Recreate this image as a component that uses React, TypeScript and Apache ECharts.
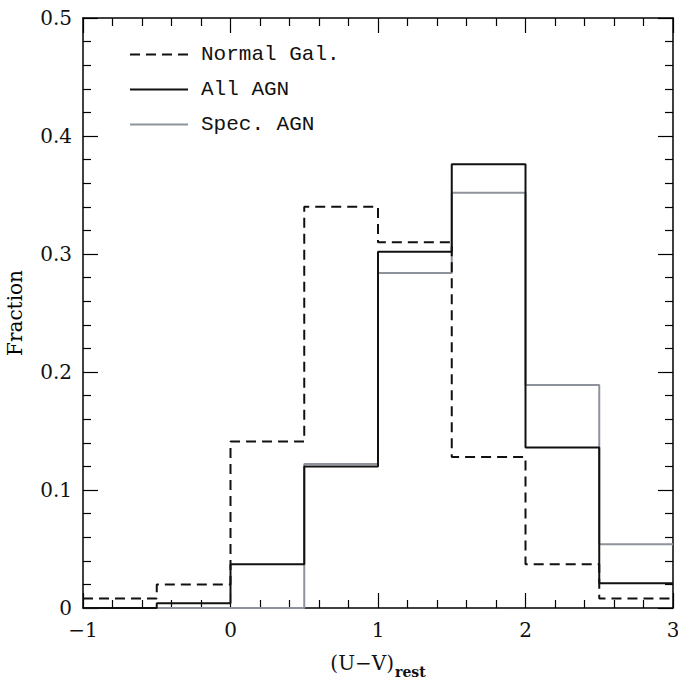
import React, { useEffect, useRef } from "react";
import * as echarts from "echarts";

const binEdges = [-1, -0.5, 0, 0.5, 1, 1.5, 2, 2.5, 3];
const normalGal = [0.008, 0.02, 0.141, 0.34, 0.31, 0.128, 0.037, 0.008];
const allAGN = [0.0, 0.004, 0.037, 0.12, 0.302, 0.376, 0.136, 0.021];
const specAGN = [0.0, 0.0, 0.0, 0.122, 0.284, 0.352, 0.189, 0.054];
const seriesNames = ["Normal Gal.", "All AGN", "Spec. AGN"];

function stepData(vals: number[]) {
  const pts: [number, number][] = vals.map((v, i) => [binEdges[i], v]);
  pts.push([binEdges[binEdges.length - 1], vals[vals.length - 1]]);
  return pts;
}

const SERIF = "'DejaVu Serif', serif";
const MONO = "'Liberation Mono', monospace";

export default function App() {
  const ref = useRef<HTMLDivElement>(null);
  useEffect(() => {
    document.body.style.margin = "0";
    const chart = echarts.init(ref.current!, undefined, { renderer: "svg" });
    const axisCommon = {
      axisLine: { show: true, onZero: false, lineStyle: { color: "#000", width: 1.5 } },
      axisTick: { show: true, inside: true, length: 15, lineStyle: { color: "#000", width: 1.2 } },
      minorTick: { show: true, splitNumber: 5, length: 8, lineStyle: { color: "#000", width: 1.2 } },
      splitLine: { show: false },
    };
    chart.setOption({
      animation: false,
      backgroundColor: "#fff",
      grid: { left: 83, top: 18, right: 5, bottom: 71, containLabel: false, outerBoundsMode: "none" },
      legend: {
        orient: "vertical",
        left: 124,
        top: 39,
        itemWidth: 58,
        itemHeight: 14,
        itemGap: 14,
        itemStyle: { opacity: 0 },
        textStyle: { fontFamily: MONO, fontSize: 21, color: "#111", padding: [0, 0, 0, 8] },
        data: seriesNames,
      },
      xAxis: [
        {
          type: "value",
          min: -1,
          max: 3,
          interval: 1,
          position: "bottom",
          ...axisCommon,
          axisLabel: {
            show: true,
            color: "#111",
            fontFamily: SERIF,
            fontSize: 20,
            margin: 12,
            formatter: (v: number) => (v < 0 ? "\u2212" + Math.abs(v) : String(v)),
          },
          name: "{a|(U\u2212V)}{s|rest}",
          nameLocation: "middle",
          nameGap: 45,
          nameTextStyle: {
            rich: {
              a: { fontFamily: SERIF, fontSize: 20, color: "#111", verticalAlign: "top" },
              s: { fontFamily: SERIF, fontSize: 14, fontWeight: "bold", color: "#111", verticalAlign: "top", padding: [12, 0, 0, 1] },
            },
          },
        },
        {
          type: "value",
          min: -1,
          max: 3,
          interval: 1,
          position: "top",
          ...axisCommon,
          axisLabel: { show: false },
        },
      ],
      yAxis: [
        {
          type: "value",
          min: 0,
          max: 0.5,
          interval: 0.1,
          position: "left",
          ...axisCommon,
          axisLabel: {
            show: true,
            color: "#111",
            fontFamily: SERIF,
            fontSize: 20,
            margin: 11,
            formatter: (v: number) => (v === 0 ? "0" : v.toFixed(1)),
          },
          name: "Fraction",
          nameLocation: "middle",
          nameGap: 58,
          nameRotate: 90,
          nameTextStyle: { fontFamily: SERIF, fontSize: 20, color: "#000" },
        },
        {
          type: "value",
          min: 0,
          max: 0.5,
          interval: 0.1,
          position: "right",
          ...axisCommon,
          axisLabel: { show: false },
        },
      ],
      series: [
        {
          name: seriesNames[2],
          type: "line",
          step: "end",
          data: stepData(specAGN),
          showSymbol: false,
          symbol: "none",
          lineStyle: { color: "#8e939b", width: 2 },
          itemStyle: { color: "#8e939b" },
          z: 2,
        },
        {
          name: seriesNames[1],
          type: "line",
          step: "end",
          data: stepData(allAGN),
          showSymbol: false,
          symbol: "none",
          lineStyle: { color: "#111", width: 2 },
          itemStyle: { color: "#111" },
          z: 3,
        },
        {
          name: seriesNames[0],
          type: "line",
          step: "end",
          data: stepData(normalGal),
          showSymbol: false,
          symbol: "none",
          lineStyle: { color: "#111", width: 2, type: [10, 6] },
          itemStyle: { color: "#111" },
          z: 4,
        },
      ],
    });
    return () => chart.dispose();
  }, []);
  return <div ref={ref} style={{ width: 678, height: 679 }} />;
}
